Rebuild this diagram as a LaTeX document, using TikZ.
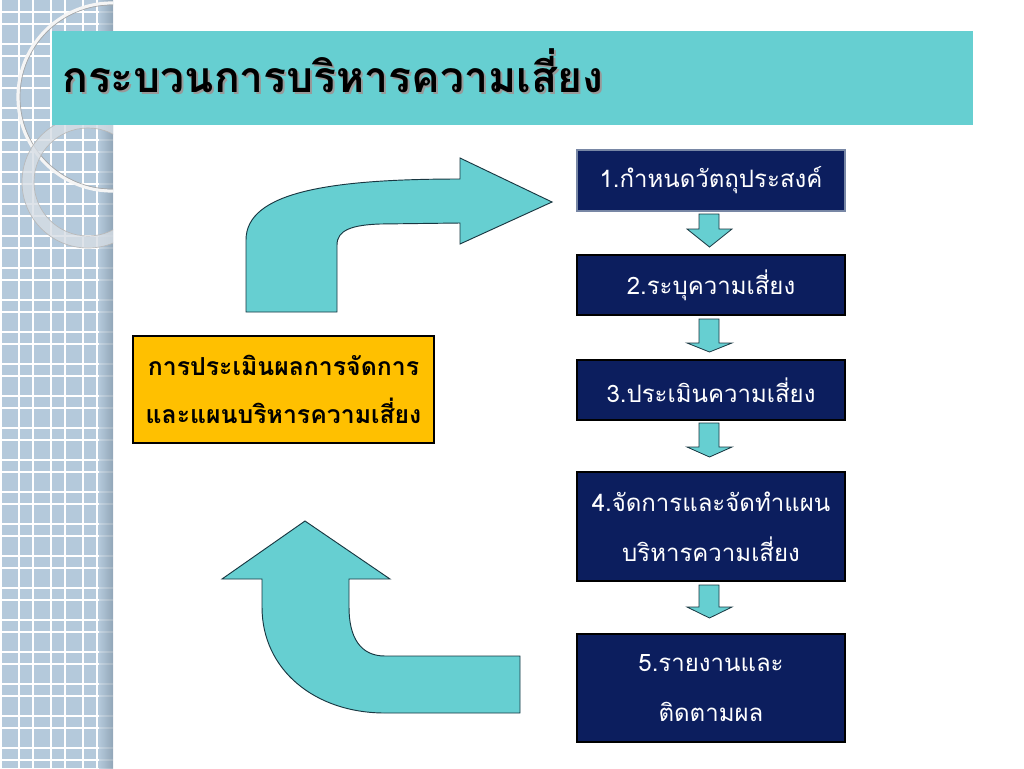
\documentclass[tikz,border=0pt]{standalone}
\usepackage{fontspec}
\newfontfamily\thai[Script=Thai]{Loma}
\definecolor{stripblue}{RGB}{180,201,219}
\definecolor{stripdark}{RGB}{135,155,172}
\definecolor{turq}{RGB}{102,207,209}
\definecolor{boxnavy}{RGB}{12,30,94}
\definecolor{boxgold}{RGB}{255,192,0}
\definecolor{arrowline}{RGB}{25,55,65}
\definecolor{ringgray}{RGB}{214,221,228}
\definecolor{firstborder}{RGB}{120,135,165}
\tikzset{
  stepbox/.style={draw=black, line width=1.5pt, fill=boxnavy, text=white, align=center,
    inner sep=0pt, minimum width=201pt, font=\thai\fontsize{18}{37.5}\selectfont},
  goldbox/.style={draw=black, line width=1.5pt, fill=boxgold, text=black, align=center,
    inner sep=0pt, minimum width=225.75pt, minimum height=80.25pt,
    font=\thai\bfseries\fontsize{18.6}{36}\selectfont},
  bigarrow/.style={fill=turq, draw=arrowline, line width=0.7pt, line join=miter},
  smallarrow/.style={fill=turq, draw=arrowline, line width=0.6pt, line join=miter},
  titlefont/.style={font=\thai\bfseries\fontsize{32}{38}\selectfont}
}
\begin{document}
\begin{tikzpicture}[x=0.75pt,y=-0.75pt]
\useasboundingbox (0,0) rectangle (1024,768);
\fill[white] (0,0) rectangle (1024,768);
% left patterned strip
\fill[stripblue] (0,0) rectangle (113,768);
\foreach \k in {0,...,3} {
  \draw[white, line width=1.3pt] (32*\k+1,0) -- (32*\k+1,768);
  \draw[white, line width=1.3pt] (32*\k+19,0) -- (32*\k+19,768);
}
\foreach \k in {0,...,23} {
  \draw[white, line width=1.3pt] (0,32*\k+12) -- (113,32*\k+12);
  \draw[white, line width=1.3pt] (0,32*\k+24) -- (113,32*\k+24);
}
\shade[left color=stripblue, right color=stripdark, opacity=0.75] (99,0) rectangle (113,768);
\begin{scope}
  \clip (0,0) rectangle (113,768);
  \draw[line width=2.4pt, white!92!gray] (112,97) circle [radius=94];
  \draw[line width=0.5pt, gray!70] (112,97) circle [radius=92];
  \draw[line width=9pt, ringgray, opacity=0.8] (88,182) circle [radius=60];
  \draw[line width=0.5pt, gray!55] (88,182) circle [radius=66];
  \draw[line width=0.5pt, gray!55] (88,182) circle [radius=54];
\end{scope}
% title bar
\fill[turq] (52,31) rectangle (973,125);
\node[titlefont, text=black!40, anchor=base west, inner sep=0pt] (titleshadow) at (64,94) {กระบวนการบริหารความเสี่ยง};
\node[titlefont, text=black, anchor=base west, inner sep=0pt] (titletext) at (62,92) {กระบวนการบริหารความเสี่ยง};
% step boxes
\node[stepbox, draw=firstborder, minimum height=45.75pt] (b1) at (711,180.5) {1.กำหนดวัตถุประสงค์};
\node[stepbox, minimum height=45pt] (b2) at (711,285) {2.ระบุความเสี่ยง};
\node[stepbox, minimum height=45pt] (b3) at (711,390) {3.ประเมินความเสี่ยง};
\node[stepbox, minimum height=81.75pt] (b4) at (711,526.5) {4.จัดการและจัดทำแผน\\บริหารความเสี่ยง};
\node[stepbox, minimum height=81pt] (b5) at (711,688) {5.รายงานและ\\ติดตามผล};
% evaluation box
\node[goldbox] (eval) at (283.5,389.5) {การประเมินผลการจัดการ\\และแผนบริหารความเสี่ยง};
% small down arrows between steps
\foreach \t/\b/\p in {214/229/247, 319/343/352, 423/447/457, 585/607/618} {
  \draw[smallarrow] (699,\t) -- (719,\t) -- (719,\b) -- (732,\b) -- (709.5,\p) -- (687,\b) -- (699,\b) -- cycle;
}
% big curved arrow (upper, pointing right)
\draw[bigarrow] (246,312) -- (246,240) .. controls (246,192) and (330,179) .. (460,179)
  -- (460,158) -- (552,202) -- (460,244) -- (460,223) -- (380,224)
  .. controls (352,225) and (337,230) .. (337,245) -- (337,312) -- cycle;
% big curved arrow (lower, pointing up)
\draw[bigarrow] (305,521) -- (390,579) -- (349,579) -- (349,607)
  .. controls (349,637) and (360,656) .. (385,656) -- (520,656) -- (520,713) -- (385,713)
  .. controls (315,713) and (262,670) .. (262,607) -- (262,579) -- (222,579) -- cycle;
\end{tikzpicture}
\end{document}
